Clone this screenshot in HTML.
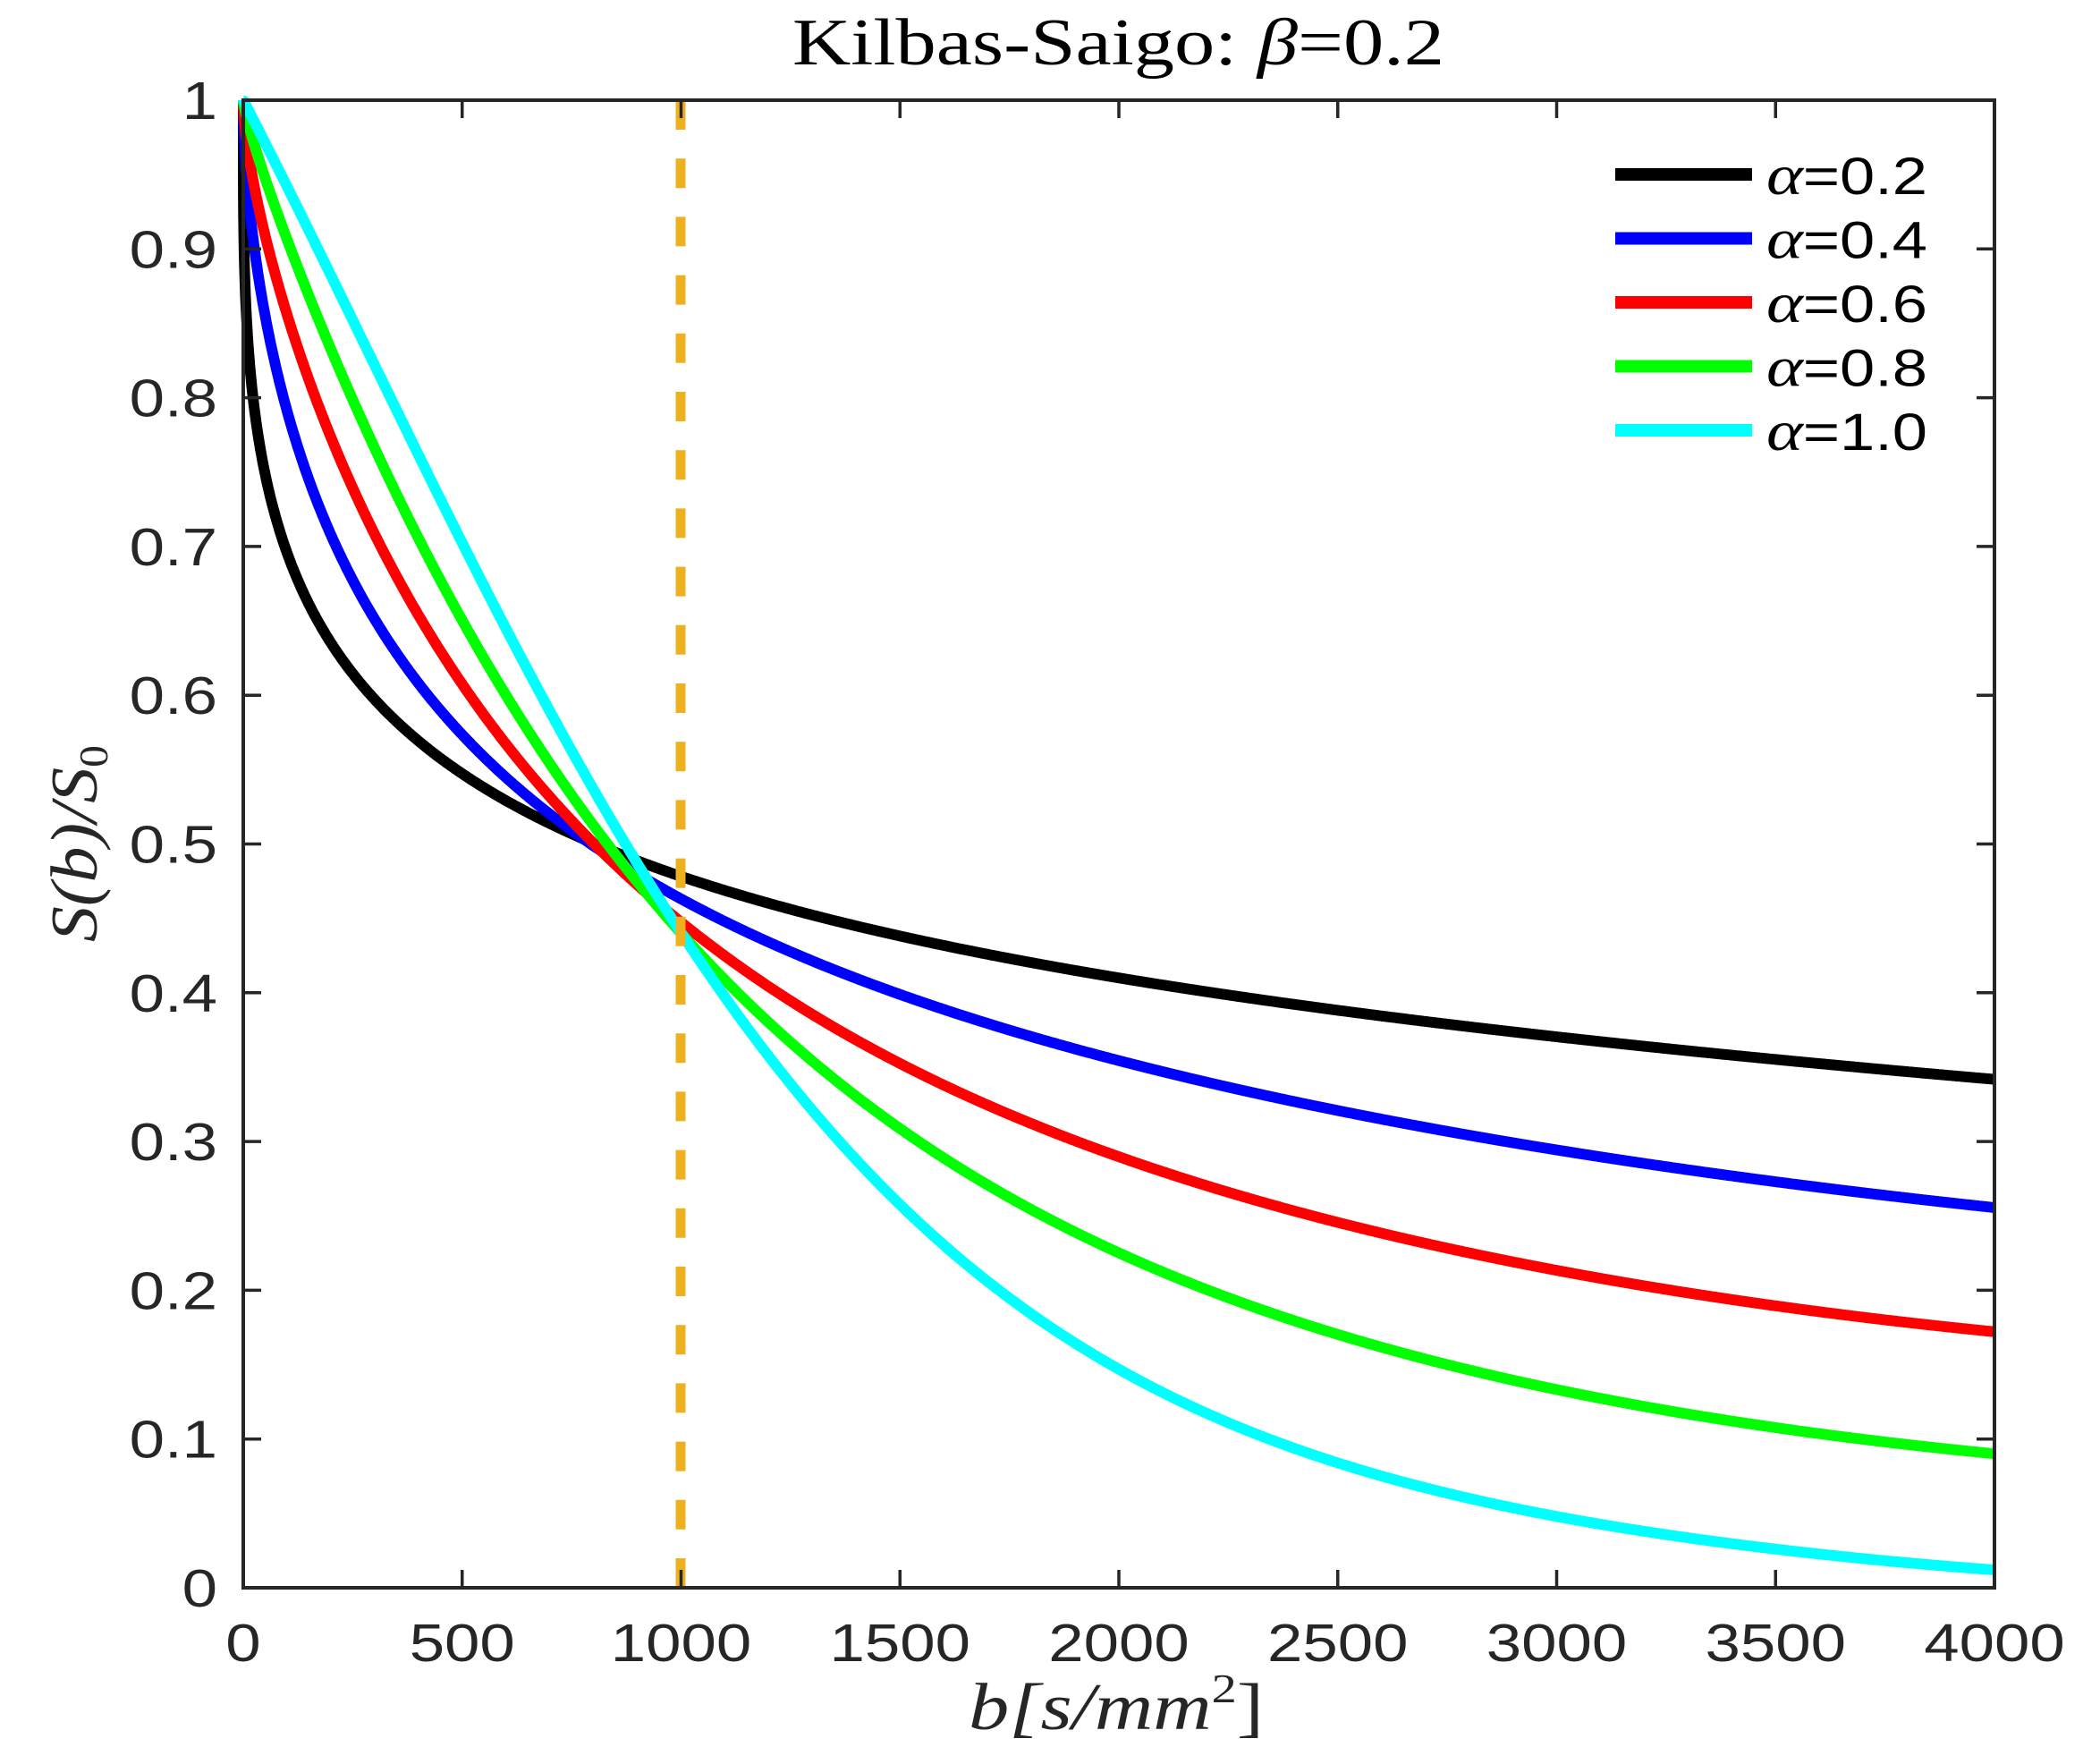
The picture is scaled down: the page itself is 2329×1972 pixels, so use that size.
<!DOCTYPE html>
<html><head><meta charset="utf-8"><style>
html,body{margin:0;padding:0;background:#fff;}
svg{display:block;}
</style></head><body>
<svg id="s" width="2329" height="1972" viewBox="0 0 2329 1972" xmlns="http://www.w3.org/2000/svg">
<rect width="2329" height="1972" fill="#fff"/>
<g id="curves"></g>
<line x1="761" y1="112" x2="761" y2="1775" stroke="#EDB120" stroke-width="11" stroke-dasharray="33 32.2"/>
<g id="axes" stroke="#262626" stroke-width="4" fill="none">
<rect x="272" y="112" width="1958" height="1663"/>
</g>
<g id="ticks" stroke="#262626" stroke-width="3.5"></g>
<g id="labels" font-family="Liberation Sans, sans-serif" font-size="59" fill="#262626"></g>
<text x="886" y="72" textLength="729" lengthAdjust="spacingAndGlyphs" font-family="Liberation Serif, serif" font-size="74" fill="#000">Kilbas-Saigo:  <tspan font-style="italic">β</tspan>=0.2</text>
<text x="1083" y="1933" textLength="330" lengthAdjust="spacingAndGlyphs" font-family="Liberation Serif, serif" font-style="italic" font-size="74" fill="#262626">b[s/mm<tspan font-size="46" dy="-30" font-style="normal">2</tspan><tspan dy="30" font-style="normal">]</tspan></text>
<text transform="translate(108,1053) rotate(-90)" x="0" y="0" textLength="220" lengthAdjust="spacingAndGlyphs" font-family="Liberation Serif, serif" font-style="italic" font-size="74" fill="#262626">S(b)/S<tspan font-size="46" dy="12" font-style="normal">0</tspan></text>
<g id="legend"></g>
</svg>
<script>
const L=272,R=2230,T=112,B=1775;
const X=b=>L+(R-L)*b/4000, Y=v=>B-(B-T)*v;
const ns="http://www.w3.org/2000/svg";
function el(p,t,a,txt){const e=document.createElementNS(ns,t);for(const k in a)e.setAttribute(k,a[k]);if(txt!=null)e.textContent=txt;p.appendChild(e);return e;}
const tk=document.getElementById('ticks'),lb=document.getElementById('labels');
for(let i=0;i<=8;i++){const x=X(i*500);
 el(tk,'line',{x1:x,y1:B,x2:x,y2:B-20});el(tk,'line',{x1:x,y1:T,x2:x,y2:T+20});
 el(lb,'text',{transform:`translate(${x},1857) scale(1.2,1)`,'text-anchor':'middle'},String(i*500));}
for(let i=0;i<=10;i++){const y=Y(i/10);
 el(tk,'line',{x1:L,y1:y,x2:L+20,y2:y});el(tk,'line',{x1:R,y1:y,x2:R-20,y2:y});
 el(lb,'text',{transform:`translate(243,${y+21}) scale(1.2,1)`,'text-anchor':'end'},i==0?'0':i==10?'1':(i/10).toFixed(1));}
const data=[
 ['#000',0.2,[[2,0.9],[20,0.8],[99,0.7035],[167,0.65],[293,0.6],[476,0.55],[750,0.506],[1000,0.478],[1500,0.44],[2000,0.41],[2500,0.388],[3000,0.37],[3500,0.355],[4000,0.342]],'α=0.2'],
 ['#0000ff',0.4,[[24,0.9],[95,0.8],[208,0.7035],[300,0.65],[422,0.6],[586,0.55],[750,0.506],[1000,0.463],[1500,0.4],[2000,0.355],[2500,0.32],[3000,0.295],[3500,0.272],[4000,0.256]],'α=0.4'],
 ['#ff0000',0.6,[[51,0.9],[170,0.8],[310,0.7035],[409,0.65],[524,0.6],[654,0.55],[803,0.492],[1000,0.447],[1500,0.355],[2000,0.29],[2500,0.245],[3000,0.213],[3500,0.19],[4000,0.172]],'α=0.6'],
 ['#00ff00',0.8,[[27,0.97],[99,0.9],[262,0.8],[402,0.7035],[500,0.65],[599,0.6],[715,0.55],[845,0.485],[1000,0.445],[1500,0.31],[2000,0.225],[2500,0.17],[3000,0.133],[3500,0.108],[4000,0.09]],'α=0.8'],
 ['#00ffff',1.0,[[15,1.002],[68,0.97],[163,0.9],[347,0.8],[494,0.7035],[592,0.65],[674,0.6],[776,0.55],[880,0.495],[1000,0.44],[1500,0.26],[2000,0.146],[2500,0.084],[3000,0.048],[3500,0.026],[4000,0.012]],'α=1.0']];
function fit(pts,g,deg){
 const n=deg,A=[],bv=[];for(let i=0;i<n;i++){A.push(new Array(n).fill(0));bv.push(0);}
 pts.forEach(p=>{const u=Math.pow(p[0]/4000,g),y=Math.log(p[1]);const ph=[];for(let k=1;k<=n;k++)ph.push(Math.pow(u,k));
  for(let i=0;i<n;i++){bv[i]+=ph[i]*y;for(let j=0;j<n;j++)A[i][j]+=ph[i]*ph[j];}});
 for(let i=0;i<n;i++){let mx=i;for(let r=i+1;r<n;r++)if(Math.abs(A[r][i])>Math.abs(A[mx][i]))mx=r;
  [A[i],A[mx]]=[A[mx],A[i]];[bv[i],bv[mx]]=[bv[mx],bv[i]];
  for(let r=0;r<n;r++)if(r!=i){const f=A[r][i]/A[i][i];for(let c=i;c<n;c++)A[r][c]-=f*A[i][c];bv[r]-=f*bv[i];}}
 const co=bv.map((v,i)=>v/A[i][i]);
 return b=>{const u=Math.pow(b/4000,g);let s=0;for(let k=1;k<=n;k++)s+=co[k-1]*Math.pow(u,k);return Math.exp(s);};}
const cg=document.getElementById('curves'),lg=document.getElementById('legend');
data.forEach((c,k)=>{const f=fit(c[2],c[1],5);let d='';
 const bs=[];for(let b=0;b<=40;b+=0.1)bs.push(b);for(let b=41;b<=4000;b+=3)bs.push(b);
 bs.forEach((b,i)=>{d+=(i?'L':'M')+X(b).toFixed(1)+' '+Y(Math.min(f(b),1.004)).toFixed(1);});
 el(cg,'path',{d:d,fill:'none',stroke:c[0],'stroke-width':12,'stroke-linejoin':'round'});
 const y=195+k*71.5;
 el(lg,'line',{x1:1806,y1:y,x2:1959,y2:y,stroke:c[0],'stroke-width':14});
 const t=el(lg,'text',{x:1975,y:y+22,textLength:180,lengthAdjust:'spacingAndGlyphs','font-family':'Liberation Sans, sans-serif','font-size':58,fill:'#000'});
 el(t,'tspan',{'font-family':'Liberation Serif, serif','font-style':'italic','font-size':64},'α');
 el(t,'tspan',{},c[3].slice(1));
});
</script>
</body></html>
